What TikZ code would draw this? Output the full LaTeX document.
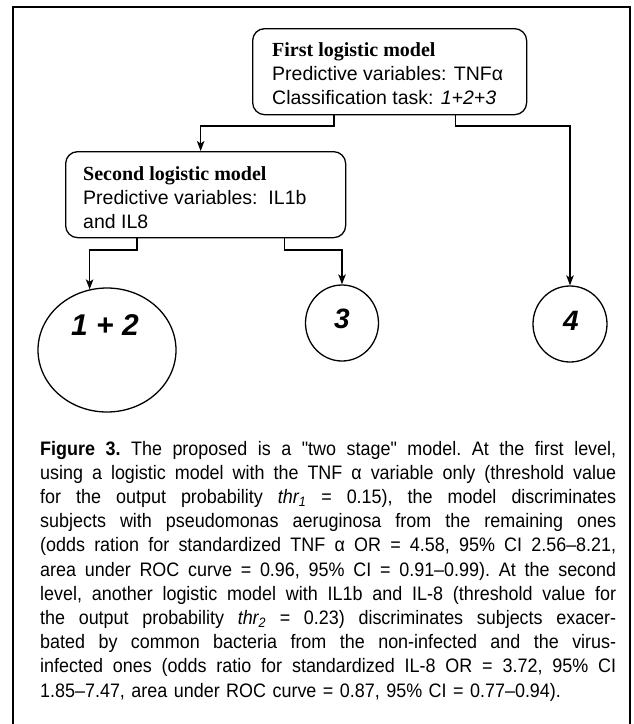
\documentclass[tikz,border=0pt]{standalone}
\usepackage{fontspec}
\setmainfont{Liberation Sans}
\newfontfamily\titlefont{Liberation Serif}
\newfontfamily\capfont[FakeStretch=0.92]{Liberation Sans}
\usetikzlibrary{arrows.meta,shapes.geometric}

% one caption line, spread to the full caption width
\newlength{\capw}
\setlength{\capw}{576pt}
\newcommand{\jl}[1]{\makebox[\capw][s]{\spaceskip=.28em plus 1em minus .06em\relax\xspaceskip=\spaceskip #1}}

\begin{document}
\begin{tikzpicture}[x=1pt,y=-1pt,
  frame/.style={line width=1.4pt},
  modelbox/.style={draw, line width=1.3pt, rounded corners=12pt, anchor=north west, inner sep=0pt},
  boxtext/.style={anchor=base west, align=left, inner sep=0pt, font=\fontsize{19.5}{24}\selectfont},
  classnode/.style={draw, ellipse, line width=1.3pt, inner sep=0pt},
  classlabel/.style={inner sep=0pt, font=\fontsize{28}{30}\selectfont\bfseries\itshape},
  conn/.style={line width=1.2pt, -{Stealth[length=10pt,width=7.5pt,inset=2.5pt]}},
  caption/.style={anchor=base west, align=left, inner sep=0pt, text width=576pt, font=\capfont\fontsize{19.5}{24.2}\selectfont\frenchspacing},
]
\useasboundingbox (0,0) rectangle (634,724);

% open frame round the figure
\draw[frame] (13,724) -- (13,7) -- (630,7) -- (630,724);

% the two model boxes (text anchored at the baseline of its last line)
\node[modelbox, minimum width=274pt, minimum height=86pt] (m1) at (252,28) {};
\node[boxtext] (m1txt) at (272,104) {{\titlefont\bfseries\fontsize{20}{24}\selectfont First logistic model}\\
  Predictive variables: TNFα\\
  Classification task: \textit{1+2+3}};

\node[modelbox, minimum width=280pt, minimum height=86pt] (m2) at (65,151) {};
\node[boxtext] (m2txt) at (83,228) {{\titlefont\bfseries\fontsize{20}{24}\selectfont Second logistic model}\\
  Predictive variables:\ \ IL1b\\
  and IL8};

% the classes
\node[classnode, minimum width=138pt, minimum height=124pt] (c12) at (107,350) {};
\node[classlabel, font=\fontsize{30}{32}\selectfont\bfseries\itshape] (t12) at (105,325) {1 + 2};
\node[classnode, minimum width=73pt, minimum height=76pt] (c3) at (342,323) {};
\node[classlabel] (t3) at (342,319) {3};
\node[classnode, minimum width=74pt, minimum height=76pt] (c4) at (570,324) {};
\node[classlabel] (t4) at (571,321) {4};

% connectors
\coordinate (lev1) at (0,126);
\coordinate (lev2) at (0,250);
\coordinate (s1a) at ([xshift=82pt]m1.south west);
\coordinate (s1b) at ([xshift=-72pt]m1.south east);
\coordinate (e2) at ([xshift=-5pt]m2.north);
\coordinate (s2a) at ([xshift=72pt]m2.south west);
\coordinate (s2b) at ([xshift=-62pt]m2.south east);

\draw[conn] (s1a) -- (s1a |- lev1) -| (e2);
\draw[conn] (s1b) -- (s1b |- lev1) -| (c4.north);
\draw[conn] (s2a) -- (s2a |- lev2) -| (c12.106);
\draw[conn] (s2b) -- (s2b |- lev2) -| (c3.north);

% caption
\node[caption] (cap) at (40,455) {%
\jl{\textbf{Figure 3.} The proposed is a "two stage" model. At the first level,}\\
\jl{using a logistic model with the TNF α variable only (threshold value}\\
\jl{for the output probability \textit{thr\textsubscript{1}} = 0.15), the model discriminates}\\
\jl{subjects with pseudomonas aeruginosa from the remaining ones}\\
\jl{(odds ration for standardized TNF α OR = 4.58, 95\% CI 2.56–8.21,}\\
\jl{area under ROC curve = 0.96, 95\% CI = 0.91–0.99). At the second}\\
\jl{level, another logistic model with IL1b and IL-8 (threshold value for}\\
\jl{the output probability \textit{thr\textsubscript{2}} = 0.23) discriminates subjects exacer-}\\
\jl{bated by common bacteria from the non-infected and the virus-}\\
\jl{infected ones (odds ratio for standardized IL-8 OR = 3.72, 95\% CI}\\
1.85–7.47, area under ROC curve = 0.87, 95\% CI = 0.77–0.94).};
\end{tikzpicture}
\end{document}
